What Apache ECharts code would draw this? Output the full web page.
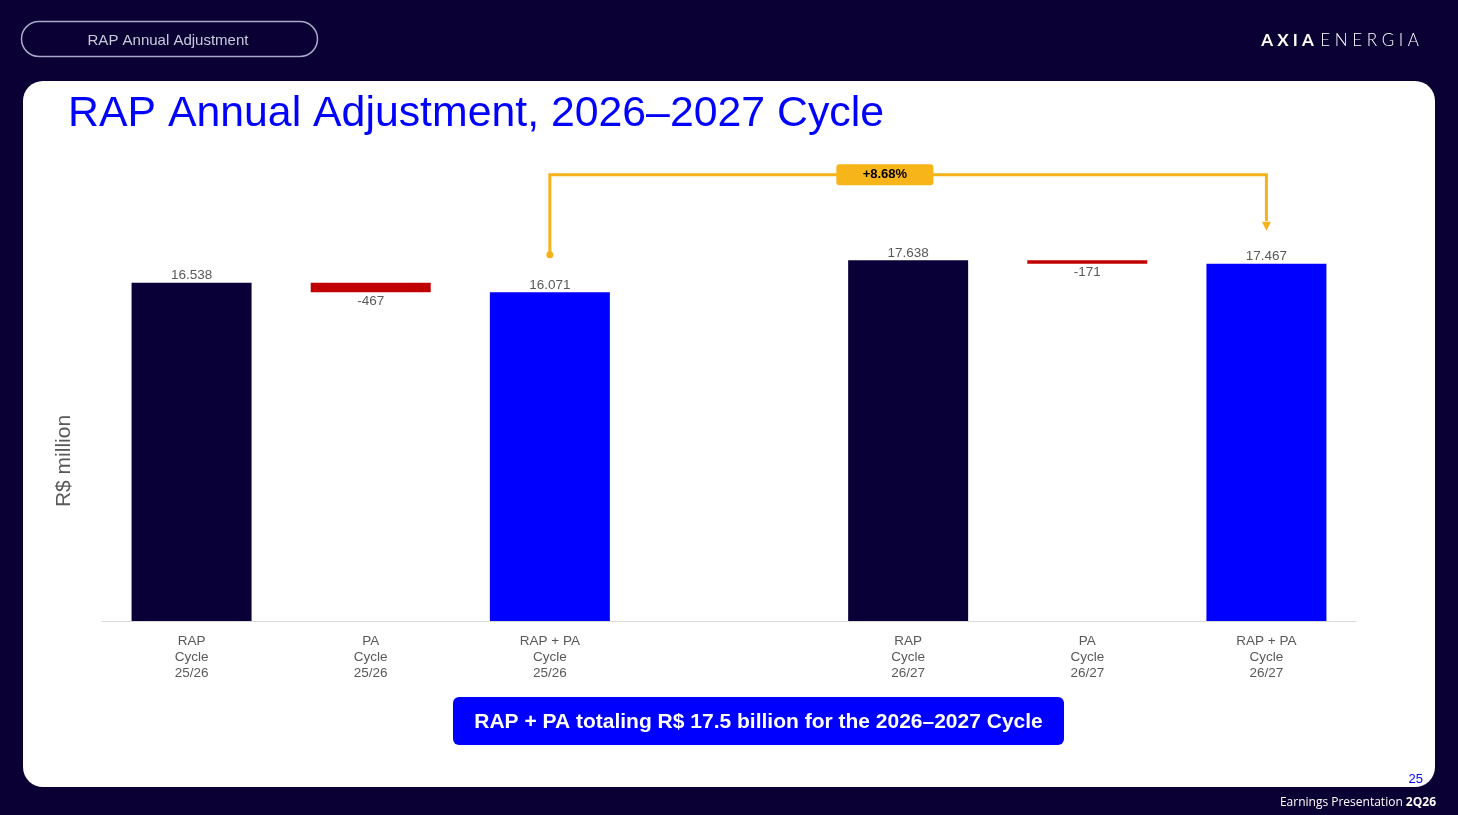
<!DOCTYPE html>
<html>
<head>
<meta charset="utf-8">
<script src="https://cdn.jsdelivr.net/npm/echarts@6/dist/echarts.min.js"></script>
<style>
  html, body { margin: 0; padding: 0; background: #0a0033; }
  #chart { width: 1458px; height: 815px; }
</style>
</head>
<body>
<div id="chart"></div>
<script>
// chart data
var categories = ['RAP\nCycle\n25/26', 'PA\nCycle\n25/26', 'RAP + PA\nCycle\n25/26', '',
                  'RAP\nCycle\n26/27', 'PA\nCycle\n26/27', 'RAP + PA\nCycle\n26/27'];
var values = [16538, -467, 16071, null, 17638, -171, 17467];
var kinds = ['rap', 'pa', 'total', null, 'rap', 'pa', 'total'];
var growthLabel = '+8.68%';
// bracket: from bar 3 to bar 7, heights in R$ million
var bracketFrom = 17900, bracketTop = 21820, bracketTo = 19300, bracketLabelX = 3.87;

var colors = { rap: '#0a0038', pa: '#c00000', total: '#0000ff' };
var gold = '#f5b21a';

function fmt(v) {
  var s = String(Math.abs(v)).replace(/\B(?=(\d{3})+(?!\d))/g, '.');
  return (v < 0 ? '-' : '') + s;
}

// waterfall: transparent base + visible piece
var base = [], pieces = [];
var running = 0;
for (var i = 0; i < values.length; i++) {
  var v = values[i];
  if (v === null) { base.push(null); pieces.push(null); continue; }
  if (kinds[i] === 'pa') {
    base.push(running + v);
    running = running + v;
    pieces.push({
      value: -v, itemStyle: { color: colors.pa },
      label: { show: true, position: 'bottom', distance: 2, formatter: fmt(v) }
    });
  } else {
    base.push(0);
    running = v;
    pieces.push({
      value: v, itemStyle: { color: colors[kinds[i]] },
      label: { show: true, position: 'top', distance: 0, formatter: fmt(v) }
    });
  }
}

var font = 'Arial, "Liberation Sans", sans-serif';
var chart = echarts.init(document.getElementById('chart'));

var option = {
  backgroundColor: '#0a0033',
  animation: false,
  title: {
    text: 'RAP Annual Adjustment, 2026\u20132027 Cycle',
    left: 63, top: 88,
    textStyle: { color: '#0000ff', fontSize: 42.8, fontWeight: 'normal', fontFamily: font }
  },
  grid: { left: 102, right: 102, top: 171, bottom: 194 },
  xAxis: [{
    type: 'category',
    data: categories,
    axisLine: { lineStyle: { color: '#d9d9d9', width: 1 } },
    axisTick: { show: false },
    axisLabel: { interval: 0, color: '#595959', fontSize: 13.5, lineHeight: 16, margin: 12, fontFamily: font }
  }, {
    type: 'value', min: -0.5, max: 6.5, show: false
  }],
  yAxis: {
    type: 'value', min: 0, max: 22000,
    axisLine: { show: false }, axisTick: { show: false },
    axisLabel: { show: false }, splitLine: { show: false }
  },
  series: [{
    type: 'bar', stack: 'w', data: base, barWidth: 120,
    itemStyle: { color: 'transparent' }, silent: true
  }, {
    type: 'bar', stack: 'w', data: pieces, barWidth: 120,
    label: { color: '#595959', fontSize: 13.5, fontFamily: font }
  }, {
    type: 'lines',
    coordinateSystem: 'cartesian2d',
    xAxisIndex: 1,
    polyline: true,
    lineStyle: { color: gold, width: 3, opacity: 1 },
    data: [{ coords: [[2, bracketFrom], [2, bracketTop], [6, bracketTop], [6, bracketTo + 250]] }],
    z: 5
  }, {
    type: 'scatter',
    xAxisIndex: 1,
    itemStyle: { color: gold, opacity: 1 },
    data: [
      { value: [2, bracketFrom], symbol: 'circle', symbolSize: 7 },
      { value: [6, bracketTo], symbol: 'triangle', symbolSize: [9, 9], symbolRotate: 180 }
    ],
    z: 5
  }, {
    type: 'scatter',
    xAxisIndex: 1,
    symbolSize: 0,
    itemStyle: { opacity: 1 },
    label: {
      show: true, position: 'inside', formatter: growthLabel,
      color: '#000000', fontSize: 13, fontWeight: 'bold', fontFamily: font,
      backgroundColor: '#f7b519', borderRadius: 3, width: 97, height: 21,
      align: 'center', verticalAlign: 'middle', lineHeight: 21
    },
    data: [[bracketLabelX, bracketTop]],
    z: 6
  }],
  graphic: [
    { type: 'rect', z: -10, shape: { x: 23, y: 81, width: 1412, height: 706, r: 20 }, style: { fill: '#ffffff' } },
    { type: 'rect', shape: { x: 21.5, y: 21.5, width: 296, height: 35, r: 17.5 },
      style: { fill: 'none', stroke: '#a9a9c9', lineWidth: 1.5 } },
    { type: 'text', x: 168, y: 41,
      style: { text: 'RAP Annual Adjustment', fill: '#c9c9dd', font: '15px ' + font, align: 'center', verticalAlign: 'middle' } },
    { type: 'text', x: 1419, y: 41,
      style: {
        text: '{b|A X I A}  {l|E N E R G I A}', align: 'right', verticalAlign: 'middle',
        rich: {
          b: { fill: '#ffffff', font: 'bold 17px Lato, sans-serif' },
          l: { fill: '#ffffff', font: '300 17px Lato, sans-serif' }
        }
      } },
    { type: 'text', x: 64, y: 461, rotation: Math.PI / 2,
      style: { text: 'R$ million', fill: '#595959', font: '21px ' + font, align: 'center', verticalAlign: 'middle' } },
    { type: 'rect', shape: { x: 453, y: 697, width: 611, height: 48, r: 6 }, style: { fill: '#0000ff' } },
    { type: 'text', x: 758.5, y: 722,
      style: { text: 'RAP + PA totaling R$ 17.5 billion for the 2026\u20132027 Cycle', fill: '#ffffff',
               font: 'bold 21px ' + font, align: 'center', verticalAlign: 'middle' } },
    { type: 'text', x: 1423, y: 779,
      style: { text: '25', fill: '#0000ff', font: '13px ' + font, align: 'right', verticalAlign: 'middle' } },
    { type: 'text', x: 1436, y: 803,
      style: {
        text: '{n|Earnings Presentation }{b|2Q26}', align: 'right', verticalAlign: 'middle',
        rich: {
          n: { fill: '#ffffff', font: '12px "Open Sans", sans-serif' },
          b: { fill: '#ffffff', font: 'bold 12px "Open Sans", sans-serif' }
        }
      } }
  ]
};

chart.setOption(option);
</script>
</body>
</html>
